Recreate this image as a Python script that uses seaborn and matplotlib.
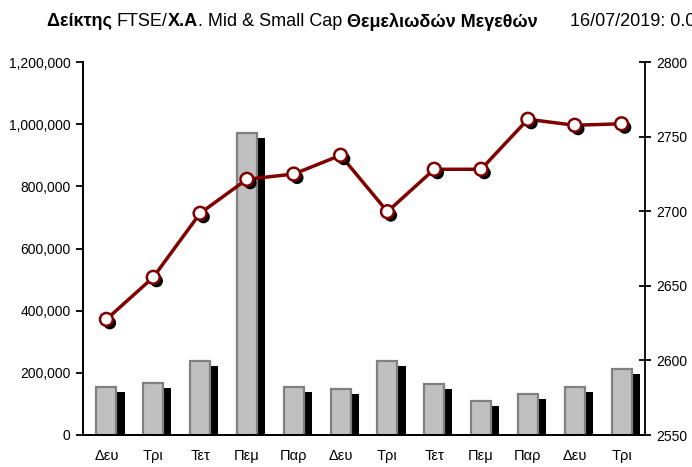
import matplotlib
matplotlib.use('Agg')
import matplotlib.pyplot as plt
import matplotlib.patheffects as pe
import seaborn as sns
import numpy as np
import pandas as pd

# Data
days = ['Δευ', 'Τρι', 'Τετ', 'Πεμ', 'Παρ', 'Δευ', 'Τρι', 'Τετ', 'Πεμ', 'Παρ', 'Δευ', 'Τρι']
volume = [155000, 168000, 239000, 970000, 155000, 149000, 239000, 163000, 110000, 131000, 155000, 213000]
index_close = [2627.5, 2655.7, 2698.6, 2721.4, 2724.9, 2737.5, 2699.7, 2728.1, 2728.1, 2761.6, 2757.6, 2758.6]

df = pd.DataFrame({'pos': np.arange(len(days)), 'day': days,
                   'volume': volume, 'close': index_close})

sns.set_style('white')
plt.rcParams['font.family'] = ['Liberation Sans', 'DejaVu Sans']
plt.rcParams['text.color'] = 'black'

fig = plt.figure(figsize=(6.92, 4.67), dpi=100)
ax = fig.add_axes([83 / 692, 32 / 467, 562 / 692, 373 / 467])

# volume bars with a black drop shadow
sns.barplot(data=df, x='pos', y='volume', ax=ax, color='#c0c0c0', width=0.43,
            edgecolor='#808080', linewidth=1.6, saturation=1)
for p in ax.patches:
    p.set_path_effects([pe.SimplePatchShadow(offset=(5.8, -3.6), shadow_rgbFace='black', alpha=1),
                        pe.Normal()])

ax.set_ylim(0, 1200000)
ax.set_yticks(np.arange(0, 1200001, 200000))
ax.set_yticklabels([f'{v:,}' for v in range(0, 1200001, 200000)])
ax.set_xlim(-0.5, len(days) - 0.5)
ax.set_xticks(np.arange(len(days)))
ax.set_xticklabels(days)
ax.set_xticks(np.arange(-0.5, len(days), 1), minor=True)
ax.tick_params(axis='x', which='major', length=0, labelsize=10.5, pad=10, colors='black')
ax.tick_params(axis='x', which='minor', direction='out', length=5, width=1.3, color='black')
ax.tick_params(axis='y', direction='out', length=5, width=1.3, labelsize=10, pad=4, colors='black', left=True)
ax.set_xlabel('')
ax.set_ylabel('')

# index line on secondary axis
ax2 = ax.twinx()
sns.lineplot(data=df, x='pos', y='close', ax=ax2, color='#800000', linewidth=2.5)
sns.scatterplot(data=df, x='pos', y='close', ax=ax2, color='white', edgecolor='#800000',
                linewidth=1.8, s=85, zorder=5,
                path_effects=[pe.SimplePatchShadow(offset=(2.4, -2.6), shadow_rgbFace='black', alpha=1),
                              pe.Normal()])
ax2.set_ylim(2550, 2800)
ax2.set_yticks(np.arange(2550, 2801, 50))
ax2.tick_params(axis='y', direction='inout', length=8, width=1.3, labelsize=10, pad=4, colors='black', right=True)
ax2.set_xlabel('')
ax2.set_ylabel('')
ax2.set_xlim(-0.5, len(days) - 0.5)

for a in (ax, ax2):
    a.spines['top'].set_visible(False)
    for s in ('left', 'right', 'bottom'):
        a.spines[s].set_color('black')
        a.spines[s].set_linewidth(1.3)
ax.spines['right'].set_visible(False)

# title in mixed bold / regular pieces
pieces = [('Δείκτης ', 'bold'), ('FTSE/', 'normal'), ('Χ.Α', 'bold'),
          ('. Mid & Small Cap ', 'normal'), ('Θεμελιωδών Μεγεθών', 'bold')]
title_family = ['Liberation Sans', 'DejaVu Sans']
renderer = fig.canvas.get_renderer()
x = 47 / 692
for txt, w in pieces:
    t = fig.text(x, 1 - 22 / 467, txt, fontsize=13, fontweight=w, family=title_family,
                 ha='left', va='center', color='black')
    bb = t.get_window_extent(renderer=renderer)
    x += bb.width / 692
fig.text(570 / 692, 1 - 22 / 467, '16/07/2019: 0.05', fontsize=13, family=title_family,
         ha='left', va='center', color='black')

fig.savefig('out.png', dpi=100)
